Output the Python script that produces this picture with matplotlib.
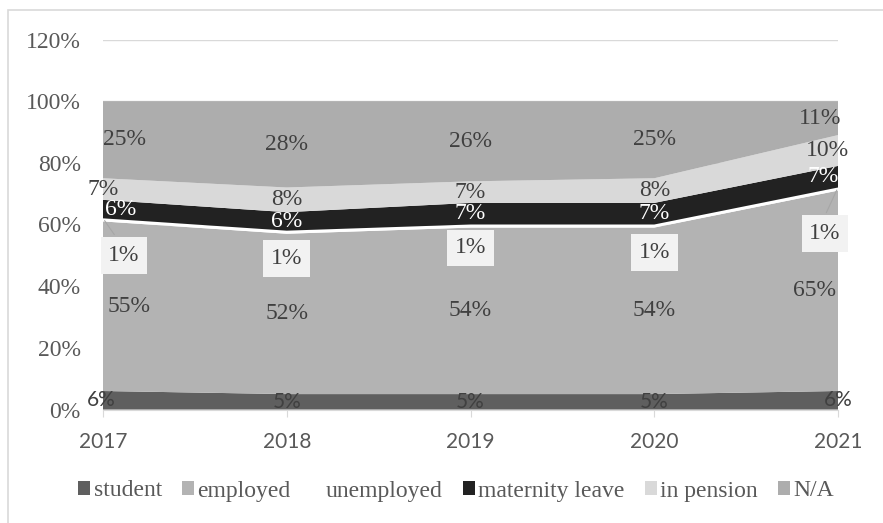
import numpy as np
import matplotlib.pyplot as plt
from matplotlib.patches import Rectangle, Patch

years = [2017, 2018, 2019, 2020, 2021]
student = [6, 5, 5, 5, 6]
employed = [55, 52, 54, 54, 65]
unemployed = [1, 1, 1, 1, 1]
maternity = [6, 6, 7, 7, 7]
pension = [7, 8, 7, 8, 10]
na = [25, 28, 26, 25, 11]

series_names = ['student', 'employed', 'unemployed', 'maternity leave', 'in pension', 'N/A']
colors = ['#5f5f5f', '#b3b3b3', '#ffffff', '#222222', '#d9d9d9', '#adadad']

# where the small "unemployed" boxes sit (percent)
unemp_label_y = [50, 49, 52.4, 51, 57]

serif = 'Liberation Serif'
sans = 'Lato'
txt = '#404040'

fig = plt.figure(figsize=(8.83, 5.23), dpi=100)
# chart frame (right and bottom edges run off the canvas)
fig.patches.append(Rectangle((8 / 883, -10 / 523), 900 / 883, 523 / 523, transform=fig.transFigure,
                             fill=False, edgecolor='#d9d9d9', lw=1.2))
ax = fig.add_axes([103 / 883, (523 - 409.5) / 523, 735 / 883, 370 / 523])

data = [student, employed, unemployed, maternity, pension, na]
ax.stackplot(years, *data, colors=colors, linewidth=0, zorder=2)

ax.set_xlim(2017, 2021)
ax.set_ylim(0, 120)
ax.set_yticks(range(0, 121, 20))
ax.set_yticklabels([f'{v}%' for v in range(0, 121, 20)], fontfamily=serif, fontsize=17, color='#595959')
ax.set_xticks(years)
ax.set_xticklabels([str(y) for y in years], fontfamily=sans, fontsize=15, color='#595959')
ax.grid(axis='y', color='#d9d9d9', lw=1, zorder=1)
for s in ['top', 'right', 'left']:
    ax.spines[s].set_visible(False)
ax.spines['bottom'].set_color('#d9d9d9')
ax.spines['bottom'].set_zorder(1)
ax.tick_params(axis='y', length=0, pad=16)
ax.tick_params(axis='x', length=5, color='#d9d9d9', pad=11)

# data labels, centred in each band
px = 72 / 100  # pixels to points
first_dx = [-2, 26, 21, 18, 0, 22]
last_dx = [0, -23, -13, -15, -11, -18]
cum = np.zeros(len(years))
for k, vals in enumerate(data):
    vals = np.array(vals)
    for i, yr in enumerate(years):
        dx = 0
        if i == 0:
            dx = first_dx[k]
        elif i == len(years) - 1:
            dx = last_dx[k]
        mid = cum[i] + vals[i] / 2
        label = f'{vals[i]}%'
        if k == 2:
            ly = unemp_label_y[i]
            ax.annotate(label, (yr, ly), xytext=(dx * px, 0), textcoords='offset points',
                        ha='center', va='center', fontfamily=serif, fontsize=17, color=txt,
                        bbox=dict(boxstyle='square,pad=0.33', fc='#f2f2f2', ec='none'), zorder=5)
            if i == 0 or i == len(years) - 1:
                ax.annotate('', (yr, mid + 0.5), xytext=(yr + (0.07 if i == 0 else -0.07), ly + 6),
                            arrowprops=dict(arrowstyle='-', color='#a6a6a6', lw=0.8), zorder=4)
            continue
        color = 'white' if k == 3 else txt
        fam = sans if k == 0 else serif
        size = 15 if k == 0 else 17
        ax.annotate(label, (yr, mid), xytext=(dx * px, 0), textcoords='offset points',
                    ha='center', va='center', fontfamily=fam, fontsize=size, color=color, zorder=5)
    cum += vals

handles = [Patch(facecolor=c, edgecolor='none') for c in colors]
fig.legend(handles, series_names, loc='center', bbox_to_anchor=(456 / 883, 1 - 491 / 523), ncol=6,
           frameon=False, prop={'family': serif, 'size': 17}, handlelength=0.5, handleheight=0.5,
           handletextpad=0.15, columnspacing=0.85, labelcolor='#595959')

fig.savefig('out.png', dpi=100)
